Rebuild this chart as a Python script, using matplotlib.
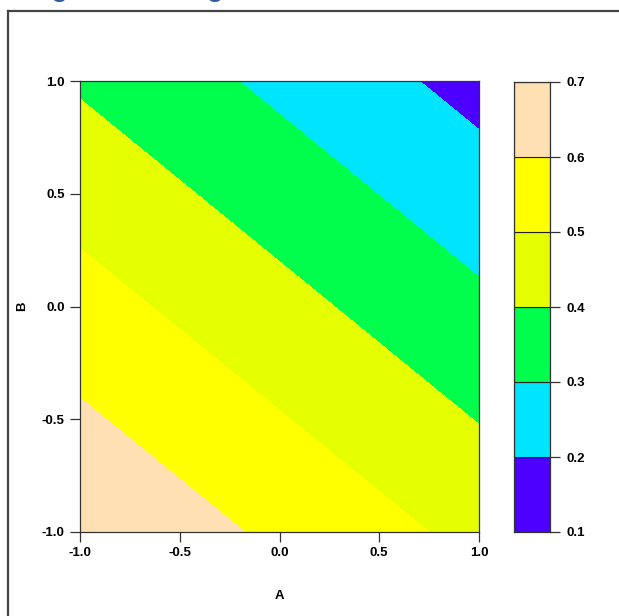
import matplotlib
matplotlib.use("Agg")
import matplotlib.pyplot as plt
import numpy as np
from matplotlib.colors import ListedColormap, BoundaryNorm
from matplotlib.patches import Rectangle
from matplotlib.lines import Line2D

# Data: response values at the corners of the design region
A_vals = [-1.0, 1.0]
B_vals = [-1.0, 1.0]
Z_vals = [[0.690, 0.473],   # B = -1 : A = -1, A = 1
          [0.388, 0.167]]   # B =  1 : A = -1, A = 1
levels = [0.1, 0.2, 0.3, 0.4, 0.5, 0.6, 0.7]
colors = ["#4C00FF", "#00E5FF", "#00FF4D", "#E6FF00", "#FFFF00", "#FFE0B3"]
xticks = [-1.0, -0.5, 0.0, 0.5, 1.0]
yticks = [-1.0, -0.5, 0.0, 0.5, 1.0]
xlabel = "A"
ylabel = "B"
title_text = "Figure 3. Design"

W, H = 619, 616
fig = plt.figure(figsize=(W / 100, H / 100), dpi=100)
plt.rcParams['font.family'] = ['Liberation Sans', 'DejaVu Sans']

def fx(px):
    return px / W

def fy(py):
    return 1 - py / H

# outer frame
fig.add_artist(Line2D([fx(8), fx(8)], [fy(11), fy(700)], color="#444444", lw=1.6, transform=fig.transFigure))
fig.add_artist(Line2D([fx(8), fx(700)], [fy(11), fy(11)], color="#444444", lw=1.6, transform=fig.transFigure))

# cut-off title (only descenders visible, as in the reference)
fig.text(fx(27), fy(-4), title_text, color="#2E5C9A", fontsize=19.7, fontweight="bold",
         ha="left", va="baseline")

cmap = ListedColormap(colors)
norm = BoundaryNorm(levels, cmap.N)

FS = 9.5
ax = fig.add_axes([fx(80), fy(532), fx(479) - fx(80), fy(81) - fy(532)])
X, Y = np.meshgrid(A_vals, B_vals)
ax.contourf(X, Y, np.array(Z_vals), levels=levels, colors=colors)
ax.set_xlim(-1, 1)
ax.set_ylim(-1, 1)
ax.set_xticks(xticks)
ax.set_yticks(yticks)
ax.set_xticklabels([f"{v:.1f}" for v in xticks], fontweight="bold", fontsize=FS)
ax.set_yticklabels([f"{v:.1f}" for v in yticks], fontweight="bold", fontsize=FS)
ax.tick_params(direction="out", length=7, width=0.9, color="#333333", pad=4)
ax.set_xlabel(xlabel, fontweight="bold", fontsize=FS, labelpad=22)
ax.set_ylabel(ylabel, fontweight="bold", fontsize=FS, labelpad=10)
for s in ax.spines.values():
    s.set_linewidth(0.9)
    s.set_color("#333333")

# colour key
cax = fig.add_axes([fx(514), fy(532), fx(550) - fx(514), fy(82) - fy(532)])
for i, c in enumerate(colors):
    cax.add_patch(Rectangle((0, levels[i]), 1, levels[i + 1] - levels[i], facecolor=c,
                            edgecolor="#222222", lw=0.8))
cax.set_xlim(0, 1)
cax.set_ylim(levels[0], levels[-1])
cax.set_xticks([])
cax.yaxis.tick_right()
cax.set_yticks(levels)
cax.set_yticklabels([f"{v:.1f}" for v in levels], fontweight="bold", fontsize=FS)
cax.tick_params(direction="out", length=7, width=0.9, color="#333333", pad=5)
for s in cax.spines.values():
    s.set_linewidth(0.9)
    s.set_color("#333333")

fig.savefig("out.png", dpi=100, facecolor="white")
